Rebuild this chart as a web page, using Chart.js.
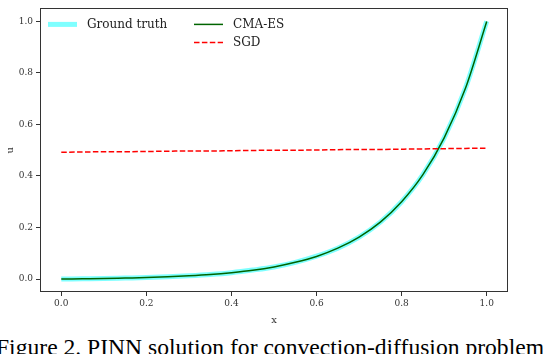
<!DOCTYPE html>
<html>
<head>
<meta charset="utf-8">
<script src="https://cdn.jsdelivr.net/npm/chart.js@4.4.1/dist/chart.umd.min.js"></script>
<style>
  html, body { margin: 0; padding: 0; background: #fff; overflow: hidden; }
  #wrap { position: relative; width: 544px; height: 354px; overflow: hidden; }
  #grafico { position: absolute; left: 0; top: 0; }
  #legenda {
    position: absolute; left: -4px; top: 335px;
    font-family: "Liberation Serif", serif; font-size: 23.6px; line-height: 24px;
    white-space: nowrap; color: #000;
  }
</style>
</head>
<body>
<div id="wrap">
  <canvas id="grafico" width="544" height="330"></canvas>
  <div id="legenda">Figure 2. PINN solution for convection-diffusion problem</div>
</div>
<script>
// valores
const xValues = [0.00, 0.05, 0.10, 0.15, 0.20, 0.25, 0.30, 0.35, 0.40, 0.45, 0.50,
                 0.55, 0.60, 0.65, 0.70, 0.75, 0.80, 0.85, 0.90, 0.95, 1.00];
const groundTruth = [0.000, 0.001, 0.002, 0.004, 0.006, 0.009, 0.013, 0.018, 0.025, 0.035, 0.047,
                     0.065, 0.089, 0.120, 0.163, 0.221, 0.300, 0.405, 0.548, 0.741, 1.000];
const cmaES = [0.000, 0.001, 0.002, 0.004, 0.006, 0.009, 0.013, 0.018, 0.025, 0.034, 0.047,
               0.065, 0.088, 0.120, 0.163, 0.221, 0.300, 0.405, 0.548, 0.740, 0.999];
const sgd = [0.492, 0.493, 0.494, 0.494, 0.495, 0.496, 0.497, 0.497, 0.498, 0.499, 0.500,
             0.500, 0.501, 0.502, 0.503, 0.503, 0.504, 0.505, 0.506, 0.507, 0.508];
const xTicks = [0.0, 0.2, 0.4, 0.6, 0.8, 1.0];
const yTicks = [0.0, 0.2, 0.4, 0.6, 0.8, 1.0];

const corEixo = '#333333';
const fonteTick = { family: 'DejaVu Serif', size: 9 };

function pontos(valores) {
    return xValues.map((x, i) => ({ x: x, y: valores[i] }));
}

// caixa em volta da área do gráfico
const caixaPlugin = {
    id: 'caixa',
    afterDraw(chart) {
        const ctx = chart.ctx;
        const a = chart.chartArea;
        ctx.save();
        ctx.strokeStyle = corEixo;
        ctx.lineWidth = 1;
        ctx.strokeRect(Math.round(a.left) + 0.5, Math.round(a.top) + 0.5,
                       Math.round(a.right - a.left) - 1, Math.round(a.bottom - a.top) - 1);
        ctx.restore();
    }
};

// legenda dentro do gráfico, em duas colunas
const legendaPlugin = {
    id: 'legendaInterna',
    afterDraw(chart) {
        const ctx = chart.ctx;
        const a = chart.chartArea;
        const posicoes = [[0, 8, 16], [1, 154, 16], [2, 154, 34]];
        ctx.save();
        ctx.font = '12px "DejaVu Serif"';
        ctx.textBaseline = 'middle';
        posicoes.forEach(([i, dx, dy]) => {
            const ds = chart.data.datasets[i];
            const x0 = a.left + dx;
            const y0 = a.top + dy;
            ctx.strokeStyle = ds.borderColor;
            ctx.lineWidth = ds.borderWidth;
            ctx.setLineDash(ds.borderDash || []);
            ctx.beginPath();
            ctx.moveTo(x0, y0);
            ctx.lineTo(x0 + 29, y0);
            ctx.stroke();
            ctx.setLineDash([]);
            ctx.fillStyle = '#222';
            ctx.fillText(ds.label, x0 + 39, y0);
        });
        ctx.restore();
    }
};

document.addEventListener('DOMContentLoaded', () => {
    const ctx = document.getElementById('grafico').getContext('2d');
    window.graficoPINN = new Chart(ctx, {
        type: 'line',
        data: {
            datasets: [{
                label: 'Ground truth',
                data: pontos(groundTruth),
                borderColor: 'rgba(0, 255, 255, 0.5)',
                borderWidth: 5,
                order: 3
            }, {
                label: 'CMA-ES',
                data: pontos(cmaES),
                borderColor: '#006400',
                borderWidth: 1.5,
                order: 2
            }, {
                label: 'SGD',
                data: pontos(sgd),
                borderColor: '#ff0000',
                borderWidth: 1.5,
                borderDash: [5.5, 2.4],
                order: 1
            }]
        },
        options: {
            responsive: false,
            animation: false,
            layout: { padding: { left: 0, right: 36, top: 1, bottom: 0 } },
            elements: {
                point: { radius: 0 },
                line: { tension: 0, cubicInterpolationMode: 'monotone', fill: false }
            },
            plugins: {
                legend: { display: false },
                tooltip: { enabled: false }
            },
            scales: {
                x: {
                    type: 'linear',
                    min: -0.05,
                    max: 1.05,
                    afterBuildTicks: s => { s.ticks = xTicks.map(v => ({ value: v })); },
                    afterFit: s => { s.height = 38; },
                    ticks: {
                        font: fonteTick, color: corEixo, padding: 2,
                        maxRotation: 0, autoSkip: false,
                        callback: v => Number(v).toFixed(1)
                    },
                    grid: { drawOnChartArea: false, tickLength: 4, color: corEixo },
                    border: { display: false },
                    title: {
                        display: true, text: 'x', color: corEixo,
                        font: { family: 'DejaVu Serif', size: 10 },
                        padding: { top: 2, bottom: 4 }
                    }
                },
                y: {
                    type: 'linear',
                    min: -0.05,
                    max: 1.05,
                    afterBuildTicks: s => { s.ticks = yTicks.map(v => ({ value: v })); },
                    afterFit: s => { s.width = 40; },
                    ticks: {
                        font: fonteTick, color: corEixo, padding: 3,
                        autoSkip: false,
                        callback: v => Number(v).toFixed(1)
                    },
                    grid: { drawOnChartArea: false, tickLength: 4, color: corEixo },
                    border: { display: false },
                    title: {
                        display: true, text: 'u', color: corEixo,
                        font: { family: 'DejaVu Serif', size: 10 },
                        padding: { top: 4, bottom: 2 }
                    }
                }
            }
        },
        plugins: [caixaPlugin, legendaPlugin]
    });
});
</script>
</body>
</html>
